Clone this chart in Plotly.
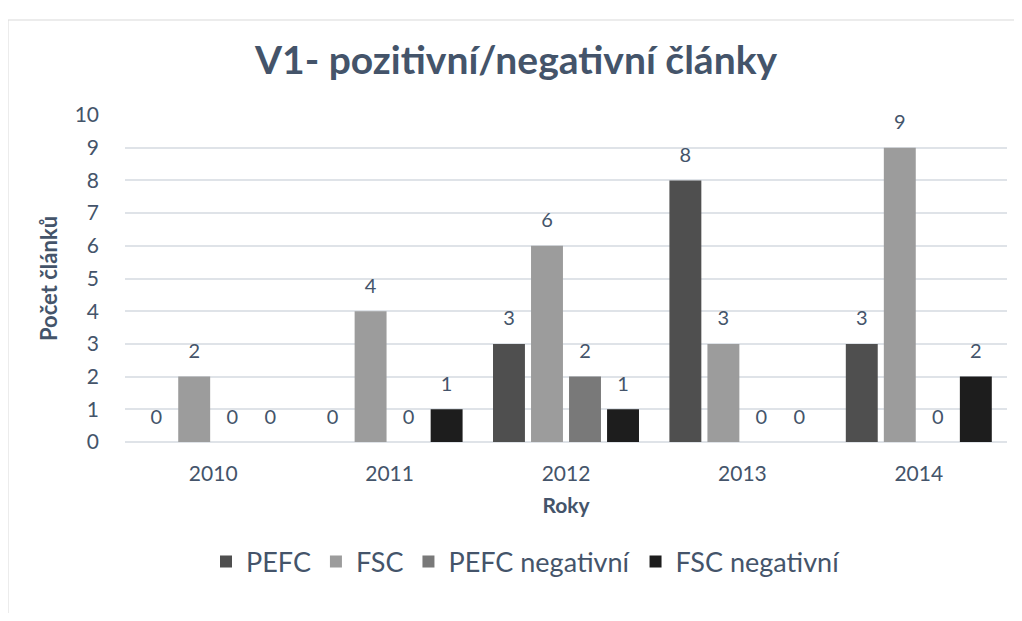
import plotly.graph_objects as go

years = ["2010", "2011", "2012", "2013", "2014"]
series_names = ["PEFC", "FSC", "PEFC negativní", "FSC negativní"]
pefc = [0, 0, 3, 8, 3]
fsc = [2, 4, 6, 3, 9]
pefc_neg = [0, 0, 2, 0, 0]
fsc_neg = [0, 1, 1, 0, 2]
series_values = [pefc, fsc, pefc_neg, fsc_neg]
colors = ["#4f4f4f", "#9c9c9c", "#797979", "#1d1d1d"]
y_ticks = list(range(0, 11))

TXT = "#44546a"
FONT = "Lato, Carlito, sans-serif"

# figure sits inside the page's 8px body margin
W, H = 1006, 605
L, R, T, B = 117, 7, 107, 171
PW, PH = W - L - R, H - T - B

fig = go.Figure()
for name, vals, col in zip(series_names, series_values, colors):
    fig.add_trace(go.Bar(
        x=years, y=vals, name=name, offsetgroup=name,
        marker=dict(color=col, line=dict(width=0)),
        hoverinfo="skip",
    ))
for name, vals in zip(series_names, series_values):
    fig.add_trace(go.Scatter(
        x=years, y=vals, offsetgroup=name, mode="markers+text",
        text=[str(v) for v in vals], textposition="top center",
        textfont=dict(size=20, color=TXT, family=FONT),
        marker=dict(size=20, opacity=0),
        showlegend=False, hoverinfo="skip", cliponaxis=False,
    ))

fig.update_layout(
    width=W, height=H,
    margin=dict(l=L, r=R, t=T, b=B, autoexpand=False),
    paper_bgcolor="white", plot_bgcolor="white",
    barmode="group", bargap=0.138, bargroupgap=0.16,
    scattermode="group", scattergap=0.138,
    font=dict(family=FONT, color=TXT),
    title=dict(text="<b>V1- pozitivní/negativní články</b>", x=508 / W, xref="container",
               y=1 - 52 / H, yref="container", xanchor="center", yanchor="middle",
               font=dict(size=39, color=TXT, family=FONT)),
    showlegend=True,
    legend=dict(orientation="h", xref="container", yref="container", x=518 / W, y=1 - 554 / H,
                xanchor="center", yanchor="middle", font=dict(size=27, color=TXT, family=FONT),
                itemwidth=30, tracegroupgap=0),
    xaxis=dict(type="category", showgrid=False, showline=False, ticks="",
               tickfont=dict(size=21, color=TXT, family=FONT), ticklabelstandoff=17,
               title=dict(text="<b>Roky</b>", font=dict(size=21, color=TXT, family=FONT), standoff=14)),
    yaxis=dict(range=[0, 10], tickvals=y_ticks, showgrid=True, gridcolor="#dfe3e8", gridwidth=2,
               zeroline=True, zerolinecolor="#dfe3e8", zerolinewidth=2, showline=False, ticks="",
               tickfont=dict(size=21, color=TXT, family=FONT), ticklabelstandoff=25,
               title=dict(text="<b>Počet článků</b>", font=dict(size=22, color=TXT, family=FONT), standoff=10)),
    shapes=[dict(type="rect", xref="paper", yref="paper",
                 x0=(0 - L) / PW, x1=(W + 20 - L) / PW,
                 y0=(PH + T - (H + 20)) / PH, y1=(PH + T - 12) / PH,
                 line=dict(color="#d9d9d9", width=1), fillcolor="rgba(0,0,0,0)", layer="below")],
)

fig.write_html("out.html")
